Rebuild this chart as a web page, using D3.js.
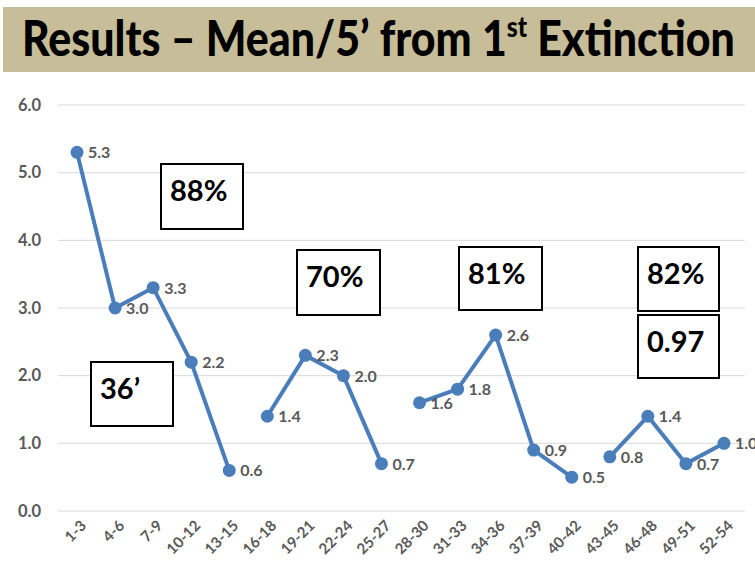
<!DOCTYPE html>
<html>
<head>
<meta charset="utf-8">
<script src="https://cdn.jsdelivr.net/npm/d3@7"></script>
<style>
  body { margin: 0; background: #fff; }
  svg { display: block; }
</style>
</head>
<body>
<div id="graph"></div>
<script>
// chart values
var categories = ["1-3", "4-6", "7-9", "10-12", "13-15", "16-18", "19-21", "22-24", "25-27",
                  "28-30", "31-33", "34-36", "37-39", "40-42", "43-45", "46-48", "49-51", "52-54"];
var means = [5.3, 3.0, 3.3, 2.2, 0.6, 1.4, 2.3, 2.0, 0.7, 1.6, 1.8, 2.6, 0.9, 0.5, 0.8, 1.4, 0.7, 1.0];
// which connected run each point belongs to (line breaks between runs)
var runs = [0, 0, 0, 0, 0, 1, 1, 1, 1, 2, 2, 2, 2, 2, 3, 3, 3, 3];
var yTicks = [0, 1, 2, 3, 4, 5, 6];
var boxLabels = ["88%", "36\u2019", "70%", "81%", "82%", "0.97"];

var W = 755, H = 571;
var blue = "#4a7ebb", gray = "#595959";
var font = "Lato, 'Open Sans', sans-serif";

var svg = d3.select("#graph").append("svg")
  .attr("width", W).attr("height", H);

// title banner
svg.append("rect")
  .attr("x", 3).attr("y", 7).attr("width", W - 3).attr("height", 65)
  .attr("fill", "#c7bd98");

var titleG = svg.append("g");
var title = titleG.append("text")
  .attr("x", 0).attr("y", 0)
  .style("font-family", font).style("font-weight", "900")
  .style("font-size", "50px").attr("fill", "#000");
title.append("tspan").text("Results \u2013 Mean/5\u2019 from 1");
title.append("tspan").text("st").style("font-size", "29px").attr("dy", -19);
title.append("tspan").text(" Extinction").attr("dy", 19);
// squeeze the title to the width it has in the banner
var tw = title.node().getComputedTextLength();
titleG.attr("transform", "translate(22,56) scale(" + (713 / tw) + ",1)");

// scales
var x = d3.scalePoint().domain(categories).range([58, 743]).padding(0.5);
var y = d3.scaleLinear().domain([0, 6]).range([511, 105]);

// gridlines
svg.append("g").selectAll("line")
  .data(yTicks).enter().append("line")
    .attr("x1", 58).attr("x2", 745)
    .attr("y1", function (d) { return y(d); })
    .attr("y2", function (d) { return y(d); })
    .attr("stroke", "#d9d9d9").attr("stroke-width", 1);

// y axis labels
var yAxis = svg.append("g")
  .attr("transform", "translate(44,0)")
  .call(d3.axisLeft(y).tickValues(yTicks).tickFormat(d3.format(".1f")).tickSize(0));
yAxis.select(".domain").remove();
yAxis.selectAll("text")
  .attr("x", -3)
  .style("font-family", font).style("font-weight", "bold")
  .style("font-size", "16.5px").attr("fill", gray);

// x axis labels
var xAxis = svg.append("g")
  .attr("transform", "translate(0,516)")
  .call(d3.axisBottom(x).tickSize(0));
xAxis.select(".domain").remove();
xAxis.selectAll("text")
  .style("font-family", font).style("font-weight", "bold")
  .style("font-size", "15px").attr("fill", gray)
  .style("text-anchor", "end")
  .attr("dy", "0.35em").attr("y", 0).attr("x", 0)
  .attr("transform", "translate(6,7) rotate(-45)");

// points with their run ids
var pts = categories.map(function (c, i) { return {cat: c, v: means[i], run: runs[i]}; });

var line = d3.line()
  .x(function (d) { return x(d.cat); })
  .y(function (d) { return y(d.v); });

var grouped = d3.groups(pts, function (d) { return d.run; });
svg.append("g").selectAll("path")
  .data(grouped).enter().append("path")
    .attr("d", function (g) { return line(g[1]); })
    .attr("fill", "none").attr("stroke", blue)
    .attr("stroke-width", 4).attr("stroke-linejoin", "round");

svg.append("g").selectAll("circle")
  .data(pts).enter().append("circle")
    .attr("cx", function (d) { return x(d.cat); })
    .attr("cy", function (d) { return y(d.v); })
    .attr("r", 6.5).attr("fill", blue);

svg.append("g").selectAll("text")
  .data(pts).enter().append("text")
    .attr("x", function (d) { return x(d.cat) + 11; })
    .attr("y", function (d) { return y(d.v); })
    .attr("dy", "0.38em")
    .style("font-family", font).style("font-weight", "bold")
    .style("font-size", "16px").attr("fill", gray)
    .text(function (d) { return d3.format(".1f")(d.v); });

// annotation boxes
var boxes = [
  {x: 161, y: 164, w: 82, h: 65},
  {x: 91, y: 362, w: 82, h: 64},
  {x: 297, y: 250, w: 83, h: 65},
  {x: 459, y: 247, w: 83, h: 63},
  {x: 638, y: 247, w: 81, h: 64},
  {x: 638, y: 315, w: 81, h: 63}
];
var ann = svg.append("g").selectAll("g")
  .data(boxes).enter().append("g")
    .attr("transform", function (d) { return "translate(" + d.x + "," + d.y + ")"; });
ann.append("rect")
  .attr("width", function (d) { return d.w; })
  .attr("height", function (d) { return d.h; })
  .attr("fill", "#fff").attr("stroke", "#000").attr("stroke-width", 2);
ann.append("text")
  .attr("x", 9).attr("y", 37)
  .style("font-family", font).style("font-weight", "bold")
  .style("font-size", "29px").attr("fill", "#000")
  .text(function (d, i) { return boxLabels[i]; });
</script>
</body>
</html>
